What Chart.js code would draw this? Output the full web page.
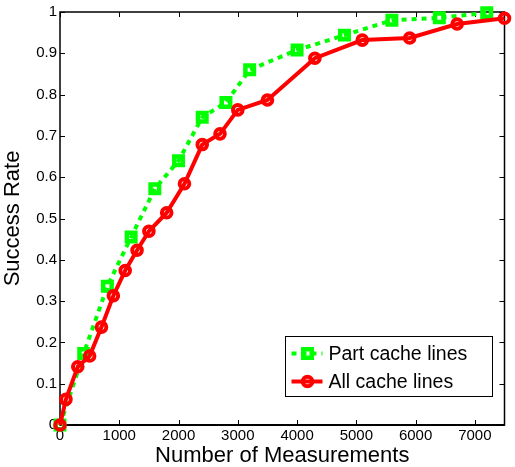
<!DOCTYPE html>
<html>
<head>
<meta charset="utf-8">
<script src="https://cdn.jsdelivr.net/npm/chart.js@4/dist/chart.umd.min.js"></script>
<style>
  html, body { margin: 0; padding: 0; background: #fff; }
  #wrap { width: 515px; height: 467px; }
</style>
</head>
<body>
<div id="wrap"><canvas id="c" width="515" height="467"></canvas></div>
<script>
// ---- data ----
const seriesNames = ["Part cache lines", "All cache lines"];
const partX = [0, 400, 800, 1200, 1600, 2000, 2400, 2800, 3200, 4000, 4800, 5600, 6400, 7200];
const partY = [0, 0.173, 0.336, 0.455, 0.572, 0.640, 0.745, 0.781, 0.860, 0.908, 0.944, 0.980, 0.986, 0.998];
const allX = [0, 100, 300, 500, 700, 900, 1100, 1300, 1500, 1800, 2100, 2400, 2700, 3000, 3500, 4300, 5100, 5900, 6700, 7500];
const allY = [0, 0.062, 0.141, 0.167, 0.237, 0.313, 0.374, 0.423, 0.469, 0.514, 0.584, 0.679, 0.705, 0.763, 0.787, 0.888, 0.932, 0.937, 0.971, 0.985];
const xTickValues = [0, 1000, 2000, 3000, 4000, 5000, 6000, 7000];
const yTickValues = [0, 0.1, 0.2, 0.3, 0.4, 0.5, 0.6, 0.7, 0.8, 0.9, 1];
const xTitle = "Number of Measurements";
const yTitle = "Success Rate";

const FONT = '"Liberation Sans", Arial, Helvetica, sans-serif';
const GREEN = '#00ff00';
const RED = '#ff0000';

const toPts = (xs, ys) => xs.map((x, i) => ({ x: x, y: ys[i] }));

// Inward ticks + box, MATLAB style
const axesBox = {
  id: 'axesBox',
  beforeDatasetsDraw(chart) {
    const { ctx, chartArea: a, scales: { x, y } } = chart;
    ctx.save();
    ctx.strokeStyle = '#000';
    ctx.lineWidth = 1;
    const tl = 5;
    ctx.beginPath();
    x.ticks.forEach(t => {
      const px = Math.round(x.getPixelForValue(t.value)) + 0.5;
      ctx.moveTo(px, a.bottom); ctx.lineTo(px, a.bottom - tl);
      ctx.moveTo(px, a.top); ctx.lineTo(px, a.top + tl);
    });
    y.ticks.forEach(t => {
      const py = Math.round(y.getPixelForValue(t.value)) + 0.5;
      ctx.moveTo(a.left, py); ctx.lineTo(a.left + tl, py);
      ctx.moveTo(a.right, py); ctx.lineTo(a.right - tl, py);
    });
    ctx.stroke();
    ctx.lineWidth = 1.5;
    ctx.strokeRect(a.left, a.top, a.right - a.left, a.bottom - a.top);
    ctx.lineWidth = 2;
    ctx.beginPath();
    ctx.moveTo(a.left, a.bottom); ctx.lineTo(a.right, a.bottom);
    ctx.stroke();
    ctx.restore();
  }
};

function drawMarker(ctx, ds, cx, cy) {
  ctx.save();
  ctx.setLineDash([]);
  ctx.lineWidth = ds.pointBorderWidth;
  ctx.strokeStyle = ds.borderColor;
  ctx.beginPath();
  if (ds.pointStyle === 'rect') {
    const s = Math.SQRT1_2 * ds.pointRadius;
    ctx.rect(cx - s, cy - s, 2 * s, 2 * s);
  } else {
    ctx.arc(cx, cy, ds.pointRadius, 0, Math.PI * 2);
  }
  ctx.stroke();
  ctx.restore();
}

// Legend box inside the plot (bottom right)
const boxLegend = {
  id: 'boxLegend',
  afterDraw(chart) {
    const { ctx } = chart;
    const bx = 285.5, by = 336.5, bw = 207, bh = 60;
    ctx.save();
    ctx.fillStyle = '#fff';
    ctx.fillRect(bx, by, bw, bh);
    ctx.strokeStyle = '#000';
    ctx.lineWidth = 1;
    ctx.strokeRect(bx, by, bw, bh);
    const order = [1, 0]; // Part first, All second
    order.forEach((di, row) => {
      const ds = chart.data.datasets[di];
      const cy = by + 17 + row * 28;
      ctx.save();
      ctx.strokeStyle = ds.borderColor;
      ctx.lineWidth = ds.borderWidth;
      ctx.setLineDash(ds.borderDash || []);
      ctx.beginPath();
      ctx.moveTo(bx + 6, cy); ctx.lineTo(bx + 37, cy);
      ctx.stroke();
      ctx.restore();
      drawMarker(ctx, ds, bx + 22, cy);
      ctx.fillStyle = '#000';
      ctx.font = '19.5px ' + FONT;
      ctx.textBaseline = 'middle';
      ctx.textAlign = 'left';
      ctx.fillText(ds.label, bx + 43, cy + 1);
    });
    ctx.restore();
  }
};

new Chart(document.getElementById('c'), {
  type: 'line',
  data: {
    datasets: [
      {
        label: seriesNames[1],
        data: toPts(allX, allY),
        borderColor: RED,
        backgroundColor: RED,
        borderWidth: 4,
        pointStyle: 'circle',
        pointRadius: 4.8,
        pointBorderWidth: 4,
        pointBackgroundColor: 'rgba(0,0,0,0)',
        pointBorderColor: RED,
        clip: false,
        tension: 0
      },
      {
        label: seriesNames[0],
        data: toPts(partX, partY),
        borderColor: GREEN,
        backgroundColor: GREEN,
        borderWidth: 4,
        borderDash: [5, 5],
        borderCapStyle: 'butt',
        pointStyle: 'rect',
        pointRadius: 6,
        pointBorderWidth: 4.5,
        pointBackgroundColor: 'rgba(0,0,0,0)',
        pointBorderColor: GREEN,
        clip: false,
        tension: 0
      }
    ]
  },
  options: {
    responsive: false,
    animation: false,
    devicePixelRatio: 1,
    layout: { padding: { top: 11, right: 5, left: 0, bottom: 0 } },
    plugins: { legend: { display: false }, tooltip: { enabled: false } },
    elements: { line: { fill: false } },
    scales: {
      x: {
        type: 'linear',
        min: 0, max: 7500,
        afterFit(s) { s.height = 42; },
        afterBuildTicks(s) { s.ticks = xTickValues.map(v => ({ value: v })); },
        grid: { display: false, drawTicks: false },
        border: { display: false },
        ticks: {
          color: '#000', padding: 2, maxRotation: 0, autoSkip: false,
          font: { family: FONT, size: 15 },
          callback: v => String(v)
        },
        title: {
          display: true, text: xTitle, color: '#000',
          font: { family: FONT, size: 22, lineHeight: 1 },
          padding: { top: 0, bottom: 0 }
        }
      },
      y: {
        type: 'linear',
        min: 0, max: 1,
        afterFit(s) { s.width = 60; },
        afterBuildTicks(s) { s.ticks = yTickValues.map(v => ({ value: v })); },
        grid: { display: false, drawTicks: false },
        border: { display: false },
        ticks: {
          color: '#000', padding: 3, autoSkip: false,
          font: { family: FONT, size: 15 },
          callback: v => String(Math.round(v * 10) / 10)
        },
        title: {
          display: true, text: yTitle, color: '#000',
          font: { family: FONT, size: 22, lineHeight: 1 },
          padding: { top: 1.5, bottom: 0 }
        }
      }
    }
  },
  plugins: [axesBox, boxLegend]
});
</script>
</body>
</html>
